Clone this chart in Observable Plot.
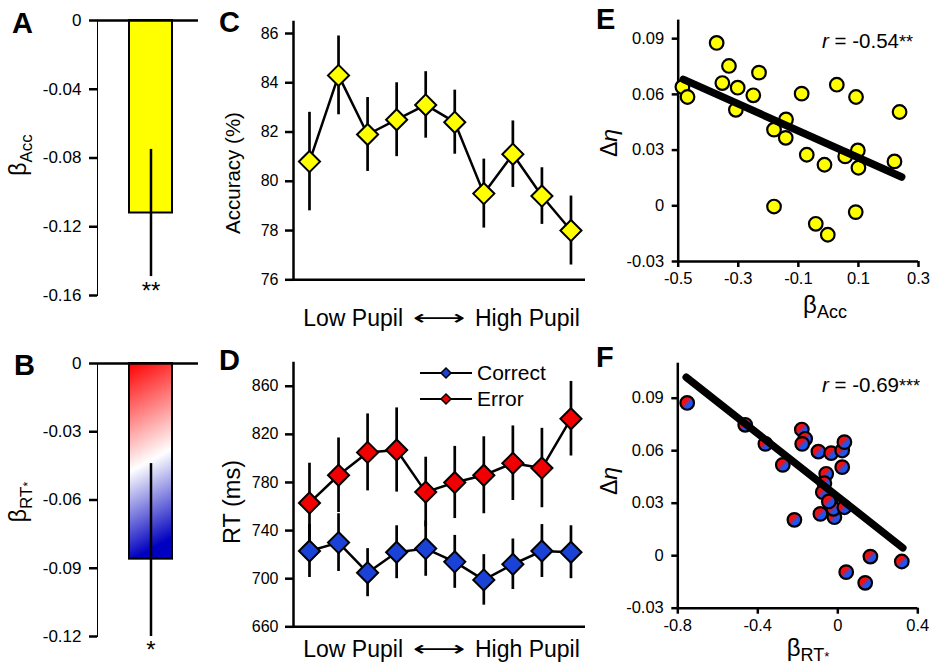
<!DOCTYPE html>
<html><head><meta charset="utf-8">
<script src="https://cdn.jsdelivr.net/npm/d3@7"></script>
<script src="https://cdn.jsdelivr.net/npm/@observablehq/plot@0.6"></script>
<style>
html,body{margin:0;padding:0;background:#fff;}
#fig{position:relative;width:932px;height:666px;overflow:hidden;font-family:"Liberation Sans",Arial,sans-serif;background:#fff;}
.panel{position:absolute;}
.panel [aria-label*="axis"] path,.panel [aria-label*="axis"] line{stroke-width:2.5px;stroke:#000;}
#overlay{position:absolute;left:0;top:0;pointer-events:none;}
</style></head><body><div id="fig"></div>
<script>
// ---------- data ----------
const betaAccMean = [-0.112];
const betaAccErr = [0.037];
const betaRTMean = [-0.086];
const betaRTErr = [0.042];
const yDomA = [-0.16, 0];
const yTicksA = [0, -0.04, -0.08, -0.12, -0.16];
const yDomB = [-0.12, 0];
const yTicksB = [0, -0.03, -0.06, -0.09, -0.12];

const pupilBins = [1, 2, 3, 4, 5, 6, 7, 8, 9, 10];
const accMean = [80.8, 84.3, 81.9, 82.5, 83.1, 82.4, 79.5, 81.1, 79.4, 78.0];
const accErr = [2.0, 1.6, 1.5, 1.5, 1.35, 1.3, 1.4, 1.35, 1.15, 1.4];
const xDomCD = [0.45, 10.5];
const yDomC = [76, 86.5];
const yTicksC = [76, 78, 80, 82, 84, 86];

const rtCorrect = [723, 730, 705, 722, 725, 714, 699, 712, 723, 722];
const rtCorrectErr = [22, 24, 20, 22, 23, 22, 21, 21, 22, 22];
const rtError = [763, 786, 805, 807, 772, 780, 786, 796, 792, 833];
const rtErrorErr = [33, 31, 32, 35, 29, 30, 32, 31, 33, 31];
const yDomD = [660, 880];
const yTicksD = [660, 700, 740, 780, 820, 860];

const eX = [-0.372, -0.331, -0.231, -0.353, -0.302, -0.486, -0.469, -0.25, -0.308, -0.089, 0.028, 0.092, 0.237, -0.141, -0.181, -0.142, -0.072, -0.013, 0.056, 0.098, 0.1, 0.22, -0.181, 0.091, -0.042, -0.002];
const eY = [0.0877, 0.0753, 0.0717, 0.0661, 0.0636, 0.064, 0.0586, 0.0595, 0.0517, 0.0604, 0.0652, 0.0586, 0.0505, 0.0465, 0.041, 0.0366, 0.0275, 0.0221, 0.0266, 0.0298, 0.0205, 0.0239, -0.0004, -0.0034, -0.0097, -0.0156];
const fitEX = [-0.483, 0.244];
const fitEY = [0.0681, 0.0155];
const xDomE = [-0.5, 0.3];
const xTicksE = [-0.5, -0.3, -0.1, 0.1, 0.3];
const yDomE = [-0.03, 0.1];
const yTicksEF = [-0.03, 0, 0.03, 0.06, 0.09];

const fX = [-0.753, -0.463, -0.362, -0.275, -0.18, -0.163, -0.178, -0.097, -0.033, 0.022, 0.033, 0.022, -0.058, -0.067, -0.075, -0.087, -0.217, -0.037, -0.017, -0.022, 0.033, 0.163, 0.32, 0.042, 0.137, -0.045];
const fY = [0.0873, 0.0748, 0.0639, 0.0519, 0.0721, 0.0668, 0.0639, 0.0595, 0.0586, 0.0601, 0.0649, 0.0506, 0.0468, 0.0414, 0.0363, 0.0239, 0.0205, 0.0296, 0.022, 0.0268, 0.0277, -0.0005, -0.0033, -0.0094, -0.0155, 0.031];
const fitFX = [-0.758, 0.325];
const fitFY = [0.102, 0.0045];
const xDomF = [-0.8, 0.4];
const xTicksF = [-0.8, -0.4, 0, 0.4];
const yDomF = [-0.03, 0.11];

// ---------- helpers ----------
const fig = document.getElementById("fig");
const FONT = "'Liberation Sans', Arial, sans-serif";
const baseStyle = (fs) => ({fontFamily: FONT, fontSize: fs + "px", background: "transparent", color: "#000", overflow: "visible"});
function place(svg, left, top) {
  svg.classList.add("panel");
  svg.style.left = left + "px";
  svg.style.top = top + "px";
  fig.appendChild(svg);
  return svg;
}
function addGradient(svg, id, x2, y2, stops) {
  let defs = d3.select(svg).insert("defs", ":first-child");
  const g = defs.append("linearGradient").attr("id", id)
    .attr("x1", 0).attr("y1", 0).attr("x2", x2).attr("y2", y2);
  for (const [o, c] of stops) g.append("stop").attr("offset", o).attr("stop-color", c);
}
const fmt = (d) => String(d);

// ---------- Panel A ----------
const barA = betaAccMean.map((v, i) => ({k: "Acc", v, e: betaAccErr[i]}));
place(Plot.plot({
  width: 205, height: 310, marginLeft: 97, marginRight: 7, marginTop: 20, marginBottom: 15,
  style: baseStyle(17),
  x: {axis: null, domain: ["Acc"], padding: 0.4, align: 0.55},
  y: {domain: yDomA, ticks: yTicksA, tickFormat: fmt, tickSize: 8, tickPadding: 8, line: true, label: null},
  marks: [
    Plot.barY(barA, {x: "k", y: "v", fill: "#ffff00", stroke: "#000", strokeWidth: 2}),
    Plot.ruleX(barA, {x: "k", y1: d => d.v - d.e, y2: d => d.v + d.e, stroke: "#000", strokeWidth: 2.5}),
    Plot.ruleY([yDomA[1]], {stroke: "#000", strokeWidth: 2.5}),
    Plot.text(barA, {x: "k", y: d => d.v - d.e, text: () => "**", lineAnchor: "top", dy: 5, fontSize: 24})
  ]
}), 0, 0);

// ---------- Panel B ----------
const barB = betaRTMean.map((v, i) => ({k: "RT", v, e: betaRTErr[i]}));
const svgB = Plot.plot({
  width: 205, height: 336, marginLeft: 97, marginRight: 7, marginTop: 33, marginBottom: 30,
  style: baseStyle(17),
  x: {axis: null, domain: ["RT"], padding: 0.4, align: 0.55},
  y: {domain: yDomB, ticks: yTicksB, tickFormat: fmt, tickSize: 8, tickPadding: 8, line: true, label: null},
  marks: [
    Plot.barY(barB, {x: "k", y: "v", fill: "url(#gradB)", stroke: "#000", strokeWidth: 2}),
    Plot.ruleX(barB, {x: "k", y1: d => Math.max(d.v - d.e, yDomB[0]), y2: d => d.v + d.e, stroke: "#000", strokeWidth: 2.5}),
    Plot.ruleY([yDomB[1]], {stroke: "#000", strokeWidth: 2.5}),
    Plot.text(barB, {x: "k", y: d => Math.max(d.v - d.e, yDomB[0]), text: () => "*", lineAnchor: "top", dy: 4, fontSize: 24})
  ]
});
addGradient(svgB, "gradB", 0.12, 1, [[0, "#ff0000"], [0.55, "#ffffff"], [1, "#0000c0"]]);
place(svgB, 0, 330);

// ---------- Panel C ----------
const accData = pupilBins.map((b, i) => ({b, m: accMean[i], e: accErr[i]}));
place(Plot.plot({
  width: 400, height: 330, marginLeft: 93, marginRight: 15, marginTop: 20.7, marginBottom: 50.7,
  style: baseStyle(16),
  x: {axis: null, domain: xDomCD},
  y: {domain: yDomC, ticks: yTicksC, tickFormat: fmt, tickSize: 8, tickPadding: 7, label: null},
  marks: [
    Plot.ruleX([xDomCD[0]], {stroke: "#000", strokeWidth: 2.5}),
    Plot.ruleY([yDomC[0]], {stroke: "#000", strokeWidth: 2.5}),
    Plot.line(accData, {x: "b", y: "m", stroke: "#000", strokeWidth: 2.5}),
    Plot.ruleX(accData, {x: "b", y1: d => d.m - d.e, y2: d => d.m + d.e, stroke: "#000", strokeWidth: 2.7}),
    Plot.dot(accData, {x: "b", y: "m", symbol: "diamond2", r: 9.5, fill: "#ffff00", stroke: "#000", strokeWidth: 2})
  ]
}), 200, 0);

// ---------- Panel D ----------
const rtData = [
  ...pupilBins.map((b, i) => ({b, m: rtCorrect[i], e: rtCorrectErr[i], s: "Correct"})),
  ...pupilBins.map((b, i) => ({b, m: rtError[i], e: rtErrorErr[i], s: "Error"}))
];
place(Plot.plot({
  width: 400, height: 336, marginLeft: 93, marginRight: 15, marginTop: 31.7, marginBottom: 39.7,
  style: baseStyle(16),
  x: {axis: null, domain: xDomCD},
  y: {domain: yDomD, ticks: yTicksD, tickFormat: fmt, tickSize: 8, tickPadding: 7, label: null},
  color: {domain: ["Correct", "Error"], range: ["#1b42d6", "#f00000"]},
  marks: [
    Plot.ruleX([xDomCD[0]], {stroke: "#000", strokeWidth: 2.5}),
    Plot.ruleY([yDomD[0]], {stroke: "#000", strokeWidth: 2.5}),
    Plot.line(rtData, {x: "b", y: "m", z: "s", stroke: "#000", strokeWidth: 2.5}),
    Plot.ruleX(rtData, {x: "b", y1: d => d.m - d.e, y2: d => d.m + d.e, stroke: "#000", strokeWidth: 2.7}),
    Plot.dot(rtData, {x: "b", y: "m", symbol: "diamond2", r: 9.5, fill: "s", stroke: "#000", strokeWidth: 2})
  ]
}), 200, 330);

// ---------- Panel E ----------
const eData = eX.map((x, i) => ({x, y: eY[i]}));
const fitE = fitEX.map((x, i) => ({x, y: fitEY[i]}));
place(Plot.plot({
  width: 332, height: 330, marginLeft: 77.7, marginRight: 14, marginTop: 19.6, marginBottom: 69,
  style: baseStyle(16.5),
  x: {domain: xDomE, ticks: xTicksE, tickFormat: fmt, tickSize: 6, tickPadding: 5, label: null},
  y: {domain: yDomE, ticks: yTicksEF, tickFormat: fmt, tickSize: 6, tickPadding: 8, label: null},
  marks: [
    Plot.ruleX([xDomE[0]], {stroke: "#000", strokeWidth: 2.5}),
    Plot.ruleY([yDomE[0]], {stroke: "#000", strokeWidth: 2.5}),
    Plot.dot(eData, {x: "x", y: "y", r: 6.8, fill: "#ffff00", stroke: "#000", strokeWidth: 2.2}),
    Plot.line(fitE, {x: "x", y: "y", stroke: "#000", strokeWidth: 7.5, strokeLinecap: "round"})
  ]
}), 600, 0);

// ---------- Panel F ----------
const fData = fX.map((x, i) => ({x, y: fY[i]}));
const fitF = fitFX.map((x, i) => ({x, y: fitFY[i]}));
const svgF = Plot.plot({
  width: 332, height: 336, marginLeft: 77.3, marginRight: 14.7, marginTop: 32.7, marginBottom: 58.3,
  style: baseStyle(16.5),
  x: {domain: xDomF, ticks: xTicksF, tickFormat: fmt, tickSize: 6, tickPadding: 5, label: null},
  y: {domain: yDomF, ticks: yTicksEF, tickFormat: fmt, tickSize: 6, tickPadding: 8, label: null},
  marks: [
    Plot.ruleX([xDomF[0]], {stroke: "#000", strokeWidth: 2.5}),
    Plot.ruleY([yDomF[0]], {stroke: "#000", strokeWidth: 2.5}),
    Plot.dot(fData, {x: "x", y: "y", r: 6.8, fill: "url(#gradF)", stroke: "#000", strokeWidth: 2.2}),
    Plot.line(fitF, {x: "x", y: "y", stroke: "#000", strokeWidth: 7.5, strokeLinecap: "round"})
  ]
});
addGradient(svgF, "gradF", 1, 1, [[0, "#f01010"], [0.4, "#f01010"], [0.6, "#1e55f0"], [1, "#1e55f0"]]);
place(svgF, 600, 330);

// ---------- text overlay (labels, legend) ----------
const pupilLabel = (base) => `
  <text x="403" y="${base}" text-anchor="end" font-size="23">Low Pupil</text>
  <text transform="translate(439,${base - 1}) scale(1.75,1)" text-anchor="middle" font-size="21" font-family="DejaVu Sans">⟷</text>
  <text x="475" y="${base}" font-size="23">High Pupil</text>`;
const ov = `
<svg id="overlay" width="932" height="666" font-family="${FONT}" fill="#000">
  <g font-weight="bold" font-size="29">
    <text x="12" y="33">A</text>
    <text x="14" y="375">B</text>
    <text x="219" y="32">C</text>
    <text x="219" y="370">D</text>
    <text x="596" y="29">E</text>
    <text x="596" y="367">F</text>
  </g>
  <text transform="translate(26,155) rotate(-90)" text-anchor="middle" font-size="23">β<tspan font-size="17" dy="6">Acc</tspan></text>
  <text transform="translate(26,502) rotate(-90)" text-anchor="middle" font-size="23">β<tspan font-size="17" dy="6">RT</tspan><tspan font-size="12">*</tspan></text>
  <text transform="translate(240,173) rotate(-90)" text-anchor="middle" font-size="20.5">Accuracy (%)</text>
  <text transform="translate(240,502) rotate(-90)" text-anchor="middle" font-size="23.5">RT (ms)</text>
  ${pupilLabel(326)}
  ${pupilLabel(657)}
  <text transform="translate(617,143) rotate(-90)" text-anchor="middle" font-size="23">Δ<tspan font-style="italic">η</tspan></text>
  <text transform="translate(617,481) rotate(-90)" text-anchor="middle" font-size="23">Δ<tspan font-style="italic">η</tspan></text>
  <text x="825" y="313" text-anchor="middle" font-size="24">β<tspan font-size="18" dy="5">Acc</tspan></text>
  <text x="808" y="656" text-anchor="middle" font-size="24">β<tspan font-size="18" dy="5">RT</tspan><tspan font-size="13">*</tspan></text>
  <text x="913" y="48" text-anchor="end" font-size="20.5"><tspan font-style="italic">r</tspan> = -0.54<tspan font-size="18">**</tspan></text>
  <text x="920" y="392" text-anchor="end" font-size="20.5"><tspan font-style="italic">r</tspan> = -0.69<tspan font-size="18">***</tspan></text>
  <g stroke="#000" stroke-width="2.2">
    <line x1="420" x2="472" y1="373" y2="373"/>
    <line x1="420" x2="472" y1="399" y2="399"/>
    <path d="M446,368 L451,373 L446,378 L441,373 Z" fill="#1b42d6" stroke-width="1.5"/>
    <path d="M446,394 L451,399 L446,404 L441,399 Z" fill="#f00000" stroke-width="1.5"/>
  </g>
  <text x="477" y="380" font-size="21">Correct</text>
  <text x="477" y="406" font-size="21">Error</text>
</svg>`;
fig.insertAdjacentHTML("beforeend", ov);
</script></body></html>
